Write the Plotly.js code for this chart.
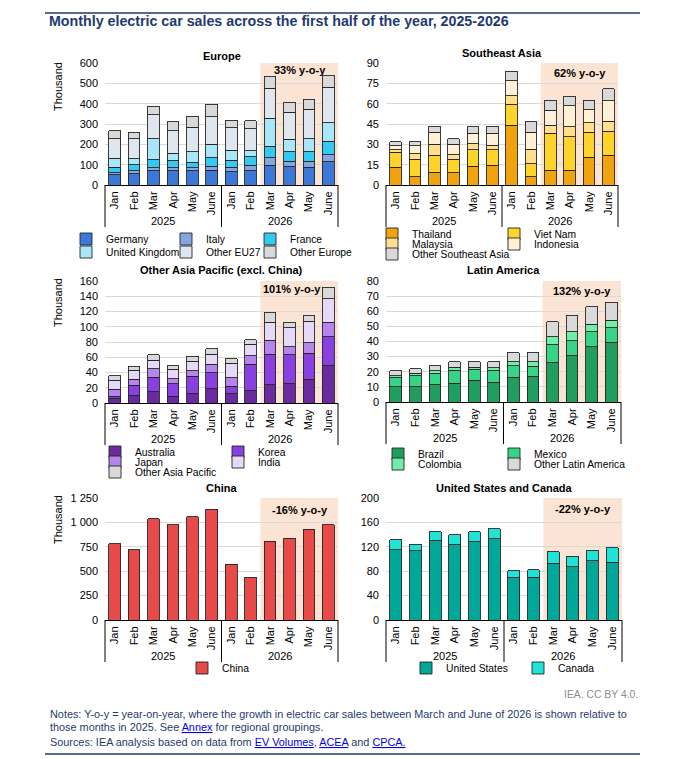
<!DOCTYPE html>
<html><head><meta charset="utf-8">
<script src="https://cdn.plot.ly/plotly-3.0.1.min.js"></script>
<style>html,body{margin:0;padding:0;background:#fff}#chart{width:690px;height:759px}</style>
</head><body><div id="chart"></div>
<script>
// ---------- DATA ----------
const years  = ['2025','2025','2025','2025','2025','2025','2026','2026','2026','2026','2026','2026'];
const months = ['Jan','Feb','Mar','Apr','May','June','Jan','Feb','Mar','Apr','May','June'];
const yearGroups = ['2025', '2026'];

// Europe (thousand)
const germany     = [50, 55, 70, 70, 70, 73, 65, 70, 98, 90, 88, 115];
const italy       = [10, 15, 15, 15, 15, 20, 22, 28, 35, 28, 30, 33];
const france      = [28, 30, 40, 37, 28, 40, 35, 40, 58, 45, 45, 68];
const uk          = [43, 30, 103, 35, 50, 67, 50, 30, 138, 62, 65, 90];
const otherEU27   = [97, 98, 117, 111, 122, 135, 110, 109, 146, 132, 145, 174];
const otherEurope = [38, 32, 43, 44, 52, 63, 36, 38, 60, 50, 49, 60];

// Southeast Asia
const thailand  = [13, 6, 9.5, 9, 14, 14.5, 44, 6, 11, 11, 20.5, 22];
const vietnam   = [11, 13, 12.5, 10, 12, 11.5, 15.5, 9.5, 27, 24.5, 18.5, 17.5];
const malaysia  = [2, 4, 8, 3.5, 4.5, 3.5, 6.5, 11, 6, 7.5, 7, 7.5];
const indonesia = [3, 6, 9, 7.5, 7.5, 8.5, 11, 12.5, 11, 15.5, 9.5, 15];
const otherSEA  = [3, 3, 4.5, 4, 5, 5.5, 7, 7.5, 7.5, 7, 7, 9];

// Other Asia Pacific
const australia = [6, 10, 15, 9, 13, 19, 12, 16, 24, 25, 31, 49];
const korea     = [3, 13, 19, 16, 22, 21, 10, 35, 40, 38, 34, 38];
const japan     = [9, 8, 11, 7, 7, 11, 11, 11, 18, 11, 14, 19];
const india     = [12, 12, 11, 12, 13, 13, 19, 15, 24, 25, 28, 31];
const otherAP   = [6, 5, 7, 5, 6, 7, 6, 6, 13, 7, 8, 15];

// Latin America
const brazil   = [10, 10, 11.5, 12.5, 14.5, 13, 16.5, 17, 26, 30.5, 36.5, 39.5];
const mexico   = [6, 7.5, 7.5, 8.5, 7, 8, 7.5, 6.5, 12, 10, 10, 9.5];
const colombia = [1.5, 1.5, 1.5, 2, 1.5, 1.5, 2.5, 3, 5, 6, 5, 5];
const otherLA  = [3, 3, 3.5, 3.5, 3.5, 4, 6, 6.5, 10, 11, 11.5, 12];

// China
const china = [781, 720, 1039, 978, 1056, 1135, 571, 438, 808, 836, 931, 978];

// United States and Canada
const unitedStates = [115, 113.5, 131, 123.5, 128, 133, 70, 70, 93, 87.5, 97, 94.5];
const canada       = [16.5, 10.5, 13.5, 16, 16.5, 17, 11, 12.5, 19, 17, 17.5, 24];

const panelTitles = ['Europe', 'Southeast Asia', 'Other Asia Pacific (excl. China)', 'Latin America', 'China', 'United States and Canada'];
const yoyLabels   = ['33% y-o-y', '62% y-o-y', '101% y-o-y', '132% y-o-y', '-16% y-o-y', '-22% y-o-y'];
const yTitle = 'Thousand';

// ---------- LAYOUT HELPERS ----------
const W = 690, H = 759;
const px = v => v / W;
const py = v => 1 - v / H;
const FONT = '"Liberation Sans", Arial, Helvetica, sans-serif';
const NARROW = '"Liberation Sans Narrow", "Arial Narrow", "Liberation Sans", Arial, sans-serif';
const OUTLINE = '#262626';
const NAVY = '#1f3a6e';

// unique category keys; the axis shows only the month names
const catKeys = months.map((m, i) => m + ' ' + years[i]);

// panel geometry (pixels): plot left/right, y of zero line, y of top
const panels = [
  {l:105, r:338, b:185, t:63,  range:[0,600],  dtick:100, ytitle:true,  titleY:56,  yoyY:70,  yoyX:0.837, ytY:87},
  {l:386, r:618, b:185, t:63,  range:[0,90],   dtick:15,  ytitle:false, titleY:53,  yoyY:73,  yoyX:0.836},
  {l:105, r:338, b:403, t:281, range:[0,160],  dtick:20,  ytitle:true,  titleY:270, yoyY:289, yoyX:0.803, ytY:303},
  {l:386, r:621, b:402, t:281, range:[0,80],   dtick:10,  ytitle:false, titleY:270, yoyY:291, yoyX:0.834},
  {l:105, r:338, b:620, t:498, range:[0,1250], dtick:250, ytitle:true,  titleY:488, yoyY:510, yoyX:0.837, ytY:520},
  {l:386, r:622, b:620, t:498, range:[0,200],  dtick:40,  ytitle:false, titleY:488, yoyY:509, yoyX:0.835}
];

// series definitions: [panel index, name, data, color]
const series = [
  [0, 'Germany', germany, '#3b78d8'],
  [0, 'Italy', italy, '#86a6e2'],
  [0, 'France', france, '#33c9f0'],
  [0, 'United Kingdom', uk, '#a9e6f7'],
  [0, 'Other EU27', otherEU27, '#dfe6ee'],
  [0, 'Other Europe', otherEurope, '#d9d9d9'],
  [1, 'Thailand', thailand, '#f0a30f'],
  [1, 'Viet Nam', vietnam, '#ffd42a'],
  [1, 'Malaysia', malaysia, '#ffdf8c'],
  [1, 'Indonesia', indonesia, '#fff0d6'],
  [1, 'Other Southeast Asia', otherSEA, '#d9d9d9'],
  [2, 'Australia', australia, '#6b2aa0'],
  [2, 'Korea', korea, '#8a3fe0'],
  [2, 'Japan', japan, '#b584ec'],
  [2, 'India', india, '#e6d8f7'],
  [2, 'Other Asia Pacific', otherAP, '#d9d9d9'],
  [3, 'Brazil', brazil, '#1f9e60'],
  [3, 'Mexico', mexico, '#35d585'],
  [3, 'Colombia', colombia, '#6eeea6'],
  [3, 'Other Latin America', otherLA, '#d9d9d9'],
  [4, 'China', china, '#e84a4a'],
  [5, 'United States', unitedStates, '#00a89a'],
  [5, 'Canada', canada, '#1fe3d6']
];

// legend entry placement (pixels): symbol centre x, row centre y — one per series, same order
const legendSlots = [
  [86, 239], [186, 239], [270, 239],
  [86, 252], [186, 252], [270, 252],
  [392, 234], [514, 234],
  [392, 244], [514, 244],
  [392, 254],
  [115, 452], [238, 452],
  [115, 462], [238, 462],
  [115, 472],
  [398, 454], [514, 454],
  [398, 464], [514, 464],
  [202, 668],
  [426, 668], [538, 668]
];

const legendId = i => 'legend' + (i + 2);   // legend2 ... legend24, one box per entry

const traces = series.map(([p, name, data, color], i) => ({
  type: 'bar',
  x: catKeys,
  y: data,
  name: name,
  legend: legendId(i),
  xaxis: p === 0 ? 'x' : 'x' + (p + 1),
  yaxis: p === 0 ? 'y' : 'y' + (p + 1),
  marker: {color: color, line: {color: OUTLINE, width: 0.9}},
  hoverinfo: 'name+y'
}));

const layout = {
  width: W, height: H,
  margin: {l: 0, r: 0, t: 0, b: 0},
  paper_bgcolor: '#fff', plot_bgcolor: 'rgba(0,0,0,0)',
  barmode: 'stack', bargap: 0.4,
  font: {family: FONT, size: 11, color: '#000'},
  separators: '. ',
  shapes: [], annotations: []
};

panels.forEach((pn, i) => {
  const sx = i === 0 ? '' : String(i + 1);
  layout['xaxis' + sx] = {
    domain: [px(pn.l), px(pn.r)], anchor: 'y' + sx, type: 'category',
    tickmode: 'array', tickvals: catKeys, ticktext: months,
    tickangle: -90, showline: true, linecolor: '#000', linewidth: 1, ticks: '',
    showgrid: false, zeroline: false, ticklabelstandoff: 1,
    tickfont: {size: 11, color: '#000', family: FONT}, fixedrange: true
  };
  layout['yaxis' + sx] = {
    domain: [py(pn.b), py(pn.t)], anchor: 'x' + sx, range: pn.range, tick0: 0, dtick: pn.dtick,
    showgrid: true, gridcolor: '#d9d9d9', gridwidth: 1, zeroline: false, showline: false, ticks: '',
    ticklabelstandoff: 6, separatethousands: true,
    tickfont: {size: 11, color: '#000', family: FONT}, fixedrange: true
  };
  // shaded y-o-y window (Mar-June 2026)
  layout.shapes.push({
    type: 'rect', xref: 'x' + sx + ' domain', yref: 'y' + sx + ' domain',
    x0: 8 / 12, x1: 1, y0: 0, y1: 1, fillcolor: '#fce4d4', line: {width: 0}, layer: 'below'
  });
  // year group dividers and labels
  [0, 0.5, 1].forEach(xd => layout.shapes.push({
    type: 'line', xref: 'x' + sx + ' domain', yref: 'paper', x0: xd, x1: xd,
    y0: py(pn.b), y1: py(pn.b + 42), line: {color: '#000', width: 1}
  }));
  yearGroups.forEach((yg, k) => layout.annotations.push({
    text: yg, xref: 'x' + sx + ' domain', x: 0.25 + 0.5 * k, yref: 'paper', y: py(pn.b + 35.5),
    showarrow: false, xanchor: 'center', yanchor: 'middle', font: {size: 11, color: '#000', family: FONT}
  }));
  layout.annotations.push({
    text: '<b>' + yoyLabels[i] + '</b>', xref: 'x' + sx + ' domain', x: pn.yoyX,
    yref: 'paper', y: py(pn.yoyY), showarrow: false, xanchor: 'center', yanchor: 'middle',
    font: {size: 11, color: '#000', family: FONT}
  });
  layout.annotations.push({
    text: '<b>' + panelTitles[i] + '</b>', xref: 'paper', x: px((pn.l + pn.r) / 2),
    yref: 'paper', y: py(pn.titleY), showarrow: false, xanchor: 'center', yanchor: 'middle',
    font: {size: 11, color: '#000', family: FONT}
  });
  if (pn.ytitle) {
    layout.annotations.push({
      text: yTitle, xref: 'paper', x: px(58), yref: 'paper', y: py(pn.ytY), textangle: -90,
      showarrow: false, xanchor: 'center', yanchor: 'middle', font: {size: 11, color: '#000', family: FONT}
    });
  }
});

// one legend box per entry so that the columns line up as in the reference
legendSlots.forEach(([sxp, ry], i) => {
  layout[legendId(i)] = {
    orientation: 'h', x: px(sxp - 20), y: py(ry), xanchor: 'left', yanchor: 'middle',
    bgcolor: 'rgba(0,0,0,0)', borderwidth: 0,
    font: {size: 10.3, color: '#000', family: FONT}, traceorder: 'normal',
    itemclick: false, itemdoubleclick: false
  };
});

// header / footer
layout.shapes.push({type: 'line', xref: 'paper', yref: 'paper', x0: px(45), x1: px(640), y0: py(13), y1: py(13), line: {color: NAVY, width: 1.5}});
layout.shapes.push({type: 'line', xref: 'paper', yref: 'paper', x0: px(45), x1: px(640), y0: py(754), y1: py(754), line: {color: NAVY, width: 1.5}});

const LINK = 'color:#0000ee';
const aTitle = layout.annotations.length;
layout.annotations.push(
  {text: '<b>Monthly electric car sales across the first half of the year, 2025-2026</b>', xref: 'paper', yref: 'paper',
   x: px(47), y: py(21), xanchor: 'left', yanchor: 'middle', showarrow: false, font: {size: 15, color: NAVY, family: NARROW}},
  {text: 'IEA. CC BY 4.0.', xref: 'paper', yref: 'paper', x: px(640), y: py(694), xanchor: 'right', yanchor: 'middle',
   showarrow: false, font: {size: 11, color: '#8c8c8c', family: NARROW}},
  {text: 'Notes: Y-o-y = year-on-year, where the growth in electric car sales between March and June of 2026 is shown relative to',
   xref: 'paper', yref: 'paper', x: px(48), y: py(714), xanchor: 'left', yanchor: 'middle', showarrow: false,
   font: {size: 11.5, color: NAVY, family: NARROW}},
  {text: 'those months in 2025. See <span style="' + LINK + '"><u>Annex</u></span> for regional groupings.',
   xref: 'paper', yref: 'paper', x: px(48), y: py(727), xanchor: 'left', yanchor: 'middle', showarrow: false,
   font: {size: 11.5, color: NAVY, family: NARROW}},
  {text: 'Sources: IEA analysis based on data from <span style="' + LINK + '"><u>EV Volumes</u></span>, <span style="' + LINK + '"><u>ACEA</u></span> and <span style="' + LINK + '"><u>CPCA.</u></span>',
   xref: 'paper', yref: 'paper', x: px(48), y: py(742), xanchor: 'left', yanchor: 'middle', showarrow: false,
   font: {size: 11.5, color: NAVY, family: NARROW}}
);

Plotly.newPlot('chart', traces, layout, {displayModeBar: false, staticPlot: true}).then(gd => {
  // fit header/notes to the reference text widths
  const widthOf = k => {
    const el = gd.querySelector('.annotation[data-index="' + k + '"] text.annotation-text');
    return el ? el.getBBox().width : 0;
  };
  const upd = {};
  const wTitle = widthOf(aTitle);
  if (wTitle > 0) upd['annotations[' + aTitle + '].font.size'] = 15 * 460 / wTitle;
  const wNote = widthOf(aTitle + 2);
  if (wNote > 0) {
    const f = 577 / wNote;
    [1, 2, 3, 4].forEach(d => {
      const k = aTitle + d;
      upd['annotations[' + k + '].font.size'] = layout.annotations[k].font.size * f;
    });
  }
  return Plotly.relayout(gd, upd);
});
</script>
</body></html>
